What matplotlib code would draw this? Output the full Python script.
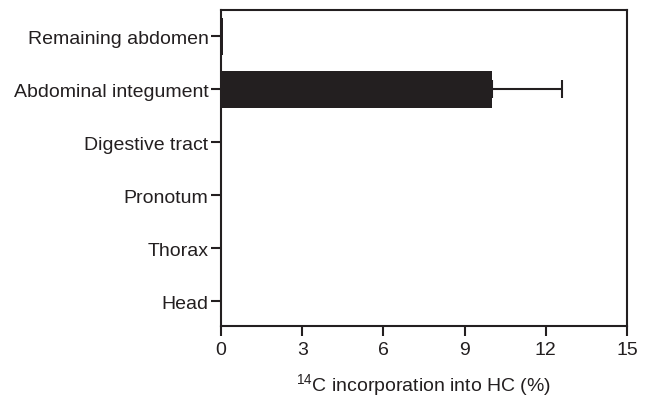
import numpy as np
import matplotlib
matplotlib.use("Agg")
import matplotlib.pyplot as plt

plt.rcParams["font.family"] = ["Liberation Sans", "DejaVu Sans"]
plt.rcParams["mathtext.fontset"] = "custom"
plt.rcParams["mathtext.rm"] = "Liberation Sans"

parts = ["Head", "Thorax", "Pronotum", "Digestive tract",
         "Abdominal integument", "Remaining abdomen"]
incorporation = [0.0, 0.0, 0.0, 0.0, 10.0, 0.08]
sem = [0.0, 0.0, 0.0, 0.0, 2.6, 0.0]
xticks = [0, 3, 6, 9, 12, 15]


def main():
    fig = plt.figure(figsize=(6.52, 4.02), dpi=100)
    ax = fig.add_axes([221 / 652, 1 - 327 / 402, 406 / 652, 316 / 402])

    y = np.arange(len(parts))
    ax.barh(y, incorporation, height=0.7, color="#231f20")

    vals = np.array(incorporation)
    errs = np.array(sem)
    has_err = errs > 0
    ax.errorbar(vals[has_err], y[has_err], xerr=[np.zeros(has_err.sum()), errs[has_err]],
                fmt="none", ecolor="#231f20", elinewidth=1.5, capsize=6.5, capthick=1.5)

    ax.set_xlim(0, 15)
    ax.set_ylim(-0.47, 5.5)
    ax.set_xticks(xticks)
    ax.set_yticks(y)
    ax.set_yticklabels(parts)

    for s in ax.spines.values():
        s.set_linewidth(1.5)
        s.set_color("#231f20")
    ax.tick_params(axis="both", labelsize=14, length=7, width=1.5, colors="#231f20",
                   labelcolor="#231f20", pad=4)
    ax.tick_params(axis="y", pad=2)

    ax.set_xlabel(r"$\mathregular{^{14}}$C incorporation into HC (%)", fontsize=14,
                  labelpad=9, color="#231f20")

    fig.savefig("out.png", dpi=100)


if __name__ == "__main__":
    main()
